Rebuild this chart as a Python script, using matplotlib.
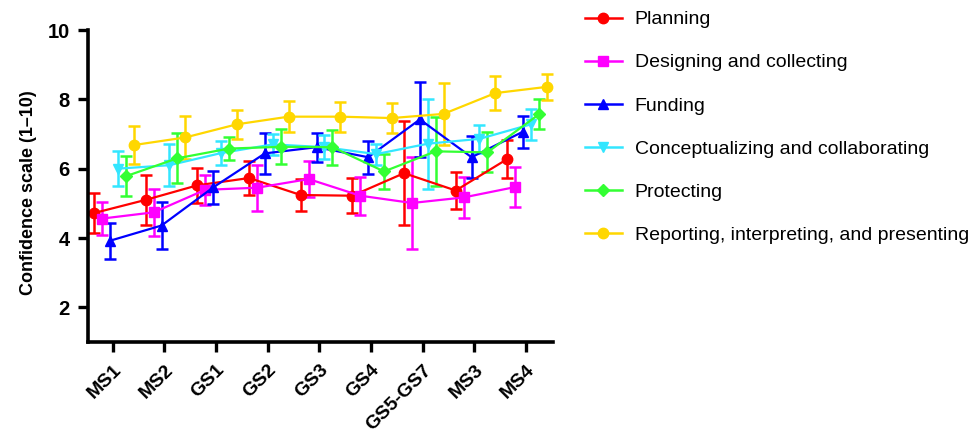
import numpy as np
import matplotlib.pyplot as plt
from matplotlib.lines import Line2D

plt.rcParams['font.family'] = ['Liberation Sans', 'DejaVu Sans']

stages = ['MS1', 'MS2', 'GS1', 'GS2', 'GS3', 'GS4', 'GS5-GS7', 'MS3', 'MS4']
names = ['Planning', 'Designing and collecting', 'Funding',
         'Conceptualizing and collaborating', 'Protecting',
         'Reporting, interpreting, and presenting']

# mean confidence per stage
planning = [4.72, 5.10, 5.52, 5.73, 5.24, 5.22, 5.87, 5.37, 6.28]
designing = [4.56, 4.74, 5.39, 5.45, 5.70, 5.22, 5.01, 5.17, 5.47]
funding = [3.92, 4.36, 5.46, 6.44, 6.62, 6.33, 7.42, 6.33, 7.07]
conceptualizing = [6.00, 6.10, 6.45, 6.70, 6.62, 6.42, 6.72, 6.86, 7.28]
protecting = [5.78, 6.30, 6.58, 6.63, 6.62, 5.92, 6.50, 6.47, 7.57]
reporting = [6.68, 6.90, 7.28, 7.50, 7.50, 7.46, 7.58, 8.18, 8.36]

# error bar half widths
planning_err = [0.58, 0.72, 0.50, 0.50, 0.46, 0.50, 1.50, 0.53, 0.55]
designing_err = [0.47, 0.67, 0.43, 0.67, 0.53, 0.55, 1.33, 0.58, 0.59]
funding_err = [0.52, 0.68, 0.47, 0.60, 0.42, 0.48, 1.08, 0.60, 0.46]
conceptualizing_err = [0.50, 0.60, 0.35, 0.30, 0.35, 0.30, 1.30, 0.40, 0.45]
protecting_err = [0.58, 0.72, 0.33, 0.50, 0.50, 0.50, 1.00, 0.58, 0.43]
reporting_err = [0.55, 0.62, 0.41, 0.45, 0.43, 0.43, 0.90, 0.49, 0.37]

means = [planning, designing, funding, conceptualizing, protecting, reporting]
errs = [planning_err, designing_err, funding_err, conceptualizing_err,
        protecting_err, reporting_err]
colors = ['#ff0000', '#ff00ff', '#0000ff', '#33e6ff', '#33ff33', '#ffd700']
markers = ['o', 's', '^', 'v', 'D', 'o']
msizes = [7.5, 7.5, 7.5, 7.5, 6, 7.5]

fig = plt.figure(figsize=(9.75, 4.34), dpi=100)
ax = fig.add_axes([88 / 975, 1 - 342 / 434, (553 - 88) / 975, (342 - 30) / 434])

x = np.arange(len(stages))
for i in range(6):
    xs = x + (i - 2.5) * 0.153 + 0.02
    ax.errorbar(xs, means[i], yerr=errs[i], color=colors[i], marker=markers[i],
                markersize=msizes[i], lw=1.6, elinewidth=1.8, capsize=4.5,
                capthick=1.8)

ax.set_xlim(-0.48, 8.52)
ax.set_ylim(1, 10)
ax.set_yticks([2, 4, 6, 8, 10])
ax.set_xticks(x)
ax.set_xticklabels(stages, rotation=45, ha='right', rotation_mode='anchor',
                   fontsize=14, fontweight='bold')
ax.tick_params(axis='y', labelsize=14.5, width=2.4, length=7, pad=6)
ax.tick_params(axis='x', width=2.4, length=7, pad=7)
for lbl in ax.get_yticklabels():
    lbl.set_fontweight('bold')
ax.set_ylabel('Confidence scale (1\u201310)', fontsize=13, fontweight='bold')
ax.yaxis.set_label_coords(-0.11, 0.48)

for side in ['top', 'right']:
    ax.spines[side].set_visible(False)
for side in ['left', 'bottom']:
    ax.spines[side].set_linewidth(2.6)

handles = [Line2D([], [], color=colors[i], marker=markers[i], markersize=msizes[i], lw=1.8)
           for i in range(6)]
fig.legend(handles, names, loc='upper left', bbox_to_anchor=(577 / 975, 1 - 3 / 434),
           frameon=False, fontsize=14, labelspacing=1.31, handlelength=1.9,
           handletextpad=0.66, borderaxespad=0)

plt.savefig('out.png', dpi=100)
